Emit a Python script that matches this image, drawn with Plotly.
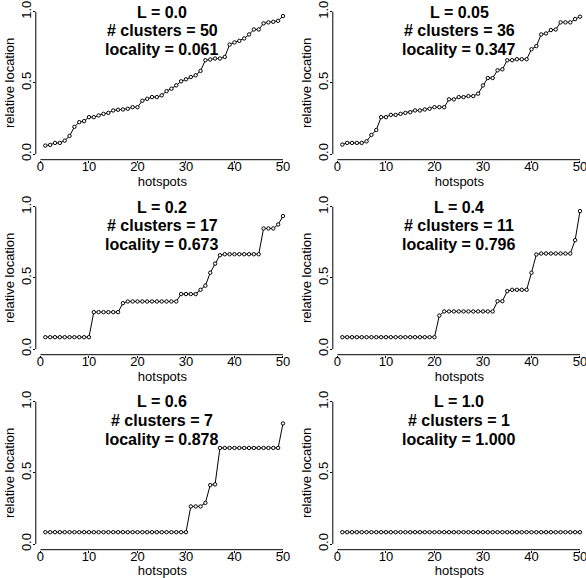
import plotly.graph_objects as go

# ---------------- data ----------------
hotspots = list(range(1, 51))

L_labels = ["0.0", "0.05", "0.2", "0.4", "0.6", "1.0"]
n_clusters = [50, 36, 17, 11, 7, 1]
locality = ["0.061", "0.347", "0.673", "0.796", "0.878", "1.000"]

loc_L00 = [0.059, 0.064, 0.078, 0.078, 0.094, 0.127, 0.191, 0.224, 0.231, 0.259,
           0.259, 0.271, 0.282, 0.289, 0.306, 0.311, 0.313, 0.318, 0.329, 0.329,
           0.374, 0.388, 0.400, 0.400, 0.412, 0.442, 0.459, 0.482, 0.511, 0.525,
           0.541, 0.553, 0.584, 0.659, 0.664, 0.671, 0.671, 0.682, 0.769, 0.784,
           0.795, 0.812, 0.840, 0.875, 0.875, 0.918, 0.925, 0.929, 0.936, 0.969]

loc_L005 = [0.066, 0.078, 0.078, 0.078, 0.078, 0.089, 0.134, 0.169, 0.259, 0.259,
            0.275, 0.275, 0.282, 0.289, 0.294, 0.306, 0.306, 0.313, 0.318, 0.329,
            0.329, 0.329, 0.384, 0.384, 0.400, 0.400, 0.407, 0.407, 0.424, 0.482,
            0.534, 0.534, 0.588, 0.595, 0.659, 0.659, 0.666, 0.666, 0.666, 0.736,
            0.758, 0.840, 0.847, 0.871, 0.875, 0.925, 0.925, 0.925, 0.948, 0.965]

loc_L02 = [0.083, 0.083, 0.083, 0.083, 0.083, 0.083, 0.083, 0.083, 0.083, 0.083,
           0.259, 0.259, 0.259, 0.259, 0.259, 0.259, 0.322, 0.334, 0.334, 0.334,
           0.334, 0.334, 0.334, 0.334, 0.334, 0.334, 0.334, 0.334, 0.386, 0.386,
           0.386, 0.386, 0.416, 0.445, 0.536, 0.600, 0.659, 0.666, 0.666, 0.666,
           0.666, 0.666, 0.666, 0.666, 0.666, 0.847, 0.847, 0.847, 0.875, 0.934]

loc_L04 = [0.083, 0.083, 0.083, 0.083, 0.083, 0.083, 0.083, 0.083, 0.083, 0.083,
           0.083, 0.083, 0.083, 0.083, 0.083, 0.083, 0.083, 0.083, 0.083, 0.083,
           0.235, 0.264, 0.264, 0.264, 0.264, 0.264, 0.264, 0.264, 0.264, 0.264,
           0.264, 0.264, 0.336, 0.336, 0.407, 0.416, 0.416, 0.416, 0.416, 0.536,
           0.664, 0.671, 0.671, 0.671, 0.671, 0.671, 0.671, 0.671, 0.765, 0.969]

loc_L06 = [0.083, 0.083, 0.083, 0.083, 0.083, 0.083, 0.083, 0.083, 0.083, 0.083,
           0.083, 0.083, 0.083, 0.083, 0.083, 0.083, 0.083, 0.083, 0.083, 0.083,
           0.083, 0.083, 0.083, 0.083, 0.083, 0.083, 0.083, 0.083, 0.083, 0.083,
           0.264, 0.264, 0.264, 0.289, 0.414, 0.419, 0.675, 0.675, 0.675, 0.675,
           0.675, 0.675, 0.675, 0.675, 0.675, 0.675, 0.675, 0.675, 0.675, 0.847]

loc_L10 = [0.083, 0.083, 0.083, 0.083, 0.083, 0.083, 0.083, 0.083, 0.083, 0.083,
           0.083, 0.083, 0.083, 0.083, 0.083, 0.083, 0.083, 0.083, 0.083, 0.083,
           0.083, 0.083, 0.083, 0.083, 0.083, 0.083, 0.083, 0.083, 0.083, 0.083,
           0.083, 0.083, 0.083, 0.083, 0.083, 0.083, 0.083, 0.083, 0.083, 0.083,
           0.083, 0.083, 0.083, 0.083, 0.083, 0.083, 0.083, 0.083, 0.083, 0.083]

series = [loc_L00, loc_L005, loc_L02, loc_L04, loc_L06, loc_L10]

x_ticks = [0, 10, 20, 30, 40, 50]
y_ticks = [0.0, 0.5, 1.0]
y_ticktext = ["0.0", "0.5", "1.0"]

# ---------------- layout geometry ----------------
W, H = 586, 578
FONT = "Liberation Sans, Arial, Helvetica, sans-serif"
x_domains = [[35.8 / W, 289.0 / W], [332.8 / W, 1.0]]
y_domains = [[1 - 159.7 / H, 1 - 6.0 / H],
             [1 - 354.7 / H, 1 - 201.0 / H],
             [1 - 549.7 / H, 1 - 396.0 / H]]

fig = go.Figure()
layout = dict(
    width=W, height=H,
    margin=dict(l=0, r=0, t=0, b=0),
    paper_bgcolor="white", plot_bgcolor="white",
    showlegend=False,
    font=dict(family=FONT, size=13, color="black"),
)
annotations = []
shapes = []

for i, ys in enumerate(series):
    n = i + 1
    row, col = i // 2, i % 2
    xa = "x" if n == 1 else f"x{n}"
    ya = "y" if n == 1 else f"y{n}"
    fig.add_trace(go.Scatter(
        x=hotspots, y=ys, xaxis=xa, yaxis=ya,
        mode="lines+markers",
        line=dict(color="black", width=1),
        marker=dict(symbol="circle", size=3.4, color="white",
                    line=dict(color="black", width=1)),
        cliponaxis=False, hoverinfo="x+y",
    ))
    xkey = "xaxis" if n == 1 else f"xaxis{n}"
    ykey = "yaxis" if n == 1 else f"yaxis{n}"
    layout[xkey] = dict(
        domain=x_domains[col], anchor=ya, range=[-0.96, 51.24],
        tickmode="array", tickvals=x_ticks,
        ticks="outside", ticklen=2, tickwidth=1, tickcolor="black",
        ticklabelstandoff=-7, ticklabeloverflow="allow",
        showgrid=False, zeroline=False, showline=False,
        tickfont=dict(family=FONT, size=13, color="black"),
        title=dict(text="hotspots", font=dict(family=FONT, size=13), standoff=0),
        automargin=False,
    )
    layout[ykey] = dict(
        domain=y_domains[row], anchor=xa, range=[-0.04, 1.04],
        tickmode="array", tickvals=y_ticks, ticktext=y_ticktext, tickangle=-90,
        ticks="outside", ticklen=2, tickwidth=1, tickcolor="black",
        ticklabelstandoff=-3, ticklabeloverflow="allow",
        showgrid=False, zeroline=False, showline=False,
        tickfont=dict(family=FONT, size=13, color="black"),
        title=dict(text="relative location", font=dict(family=FONT, size=13), standoff=1),
        automargin=False,
    )
    # R-style detached axis lines spanning first to last tick
    shapes.append(dict(type="line", xref=xa, yref=f"{ya} domain",
                       x0=x_ticks[0], x1=x_ticks[-1], y0=0, y1=0,
                       line=dict(color="black", width=1)))
    shapes.append(dict(type="line", xref=f"{xa} domain", yref=ya,
                       x0=0, x1=0, y0=y_ticks[0], y1=y_ticks[-1],
                       line=dict(color="black", width=1)))
    lines = [f"L = {L_labels[i]}", f"# clusters = {n_clusters[i]}",
             f"locality = {locality[i]}"]
    for k, txt in enumerate(lines):
        annotations.append(dict(
            text=f"<b>{txt}</b>", xref=f"{xa} domain", yref=f"{ya} domain",
            x=0.5, y=1, xanchor="center", yanchor="middle",
            yshift=-(6 + 18.7 * k), showarrow=False,
            font=dict(family=FONT, size=16, color="black"),
        ))

layout["annotations"] = annotations
layout["shapes"] = shapes
fig.update_layout(**layout)
fig.write_html("out.html")
